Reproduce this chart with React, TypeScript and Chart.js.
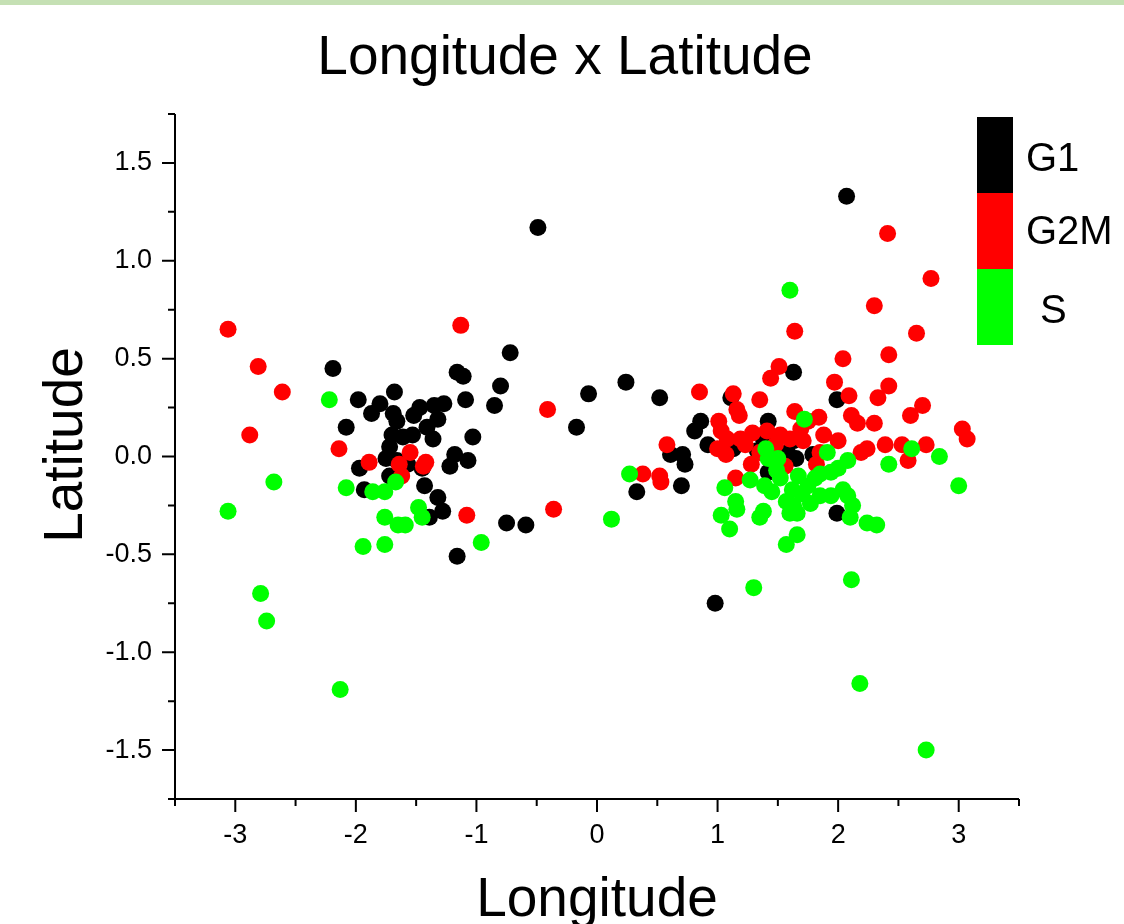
import React, { useEffect, useRef } from "react";
import { Chart, registerables } from "chart.js";

Chart.register(...registerables);

const chartTitle = "Longitude x Latitude";
const xAxisTitle = "Longitude";
const yAxisTitle = "Latitude";

const seriesNames = ["G1", "G2M", "S"];
const seriesColors = ["#000000", "#ff0000", "#00ff00"];

const xMajorValues = [-3, -2, -1, 0, 1, 2, 3];
const xTickLabels = ["-3", "-2", "-1", "0", "1", "2", "3"];
const yMajorValues = [1.5, 1.0, 0.5, 0, -0.5, -1.0, -1.5];
const yTickLabels = ["1.5", "1.0", "0.5", "0.0", "-0.5", "-1.0", "-1.5"];

const g1Points: [number, number][] = [
  [-0.49, 1.17], [2.07, 1.33], [-2.19, 0.45], [-0.72, 0.53], [-1.16, 0.43], [-1.11, 0.41],
  [-0.80, 0.36], [0.24, 0.38], [-0.07, 0.32], [0.52, 0.30], [-0.17, 0.15], [-1.09, 0.29],
  [-0.85, 0.26], [-1.03, 0.10], [-2.08, 0.15], [-1.98, 0.29], [-1.68, 0.33], [-1.80, 0.27],
  [-1.87, 0.22], [-1.69, 0.22], [-1.66, 0.18], [-1.47, 0.25], [-1.52, 0.21], [-1.35, 0.26],
  [-1.27, 0.27], [-1.32, 0.19], [-1.41, 0.15], [-1.36, 0.09], [-1.70, 0.11], [-1.61, 0.10],
  [-1.53, 0.11], [-1.72, 0.05], [-1.75, -0.01], [-1.66, -0.02], [-1.57, -0.04], [-1.18, 0.01],
  [-1.22, -0.05], [-1.07, -0.02], [-1.97, -0.06], [-1.72, -0.10], [-1.45, -0.06], [-1.43, -0.15],
  [-1.93, -0.17], [-1.32, -0.21], [-1.28, -0.28], [-1.39, -0.31], [-1.16, -0.51], [-0.75, -0.34],
  [-0.59, -0.35],
  [0.33, -0.18], [0.70, -0.15], [0.61, 0.01], [0.71, 0.01], [0.73, -0.04], [1.11, 0.30],
  [0.86, 0.18], [0.81, 0.13], [0.92, 0.06], [1.13, 0.04], [1.42, 0.18], [1.38, 0.09],
  [1.63, 0.08], [1.65, -0.01], [1.33, 0.03], [1.42, -0.08], [1.58, 0.02], [1.79, 0.01],
  [1.99, 0.29], [1.63, 0.43], [1.99, -0.29], [0.98, -0.75],
];

const g2mPoints: [number, number][] = [
  [-3.06, 0.65], [-2.81, 0.46], [-2.61, 0.33], [-2.88, 0.11], [-2.14, 0.04], [-1.89, -0.03],
  [-1.55, 0.02], [-1.64, -0.04], [-1.42, -0.03], [-1.44, -0.05], [-1.62, -0.10], [-1.08, -0.30],
  [-1.13, 0.67], [-0.41, 0.24], [-0.36, -0.27],
  [0.38, -0.09], [0.52, -0.10], [0.53, -0.13], [0.58, 0.06], [0.85, 0.33], [1.13, 0.32],
  [1.35, 0.29], [1.16, 0.24], [1.18, 0.21], [1.01, 0.18], [1.03, 0.13], [1.00, 0.04],
  [1.07, 0.01], [1.19, 0.09], [1.29, 0.12], [1.41, 0.13], [1.52, 0.11], [1.60, 0.09],
  [1.28, -0.04], [1.56, -0.05], [1.15, -0.11], [1.51, 0.46], [1.44, 0.40], [1.64, 0.23],
  [1.75, 0.18], [1.84, 0.20], [1.71, 0.08], [1.88, 0.11], [2.00, 0.08], [1.82, -0.04],
  [1.85, 0.02], [2.04, 0.50], [2.42, 0.52], [2.41, 1.14], [2.77, 0.91], [2.30, 0.77],
  [2.65, 0.63], [1.64, 0.64], [1.97, 0.38], [2.42, 0.36], [2.33, 0.30], [2.09, 0.31],
  [2.11, 0.21], [2.16, 0.17], [2.30, 0.17], [2.70, 0.26], [2.60, 0.21], [3.03, 0.14],
  [3.07, 0.09], [2.39, 0.06], [2.53, 0.06], [2.73, 0.06], [2.19, 0.02], [2.24, 0.04],
  [2.58, -0.02], [1.23, 0.06], [1.48, 0.06], [1.35, 0.02], [1.08, 0.09], [1.69, 0.14],
];

const sPoints: [number, number][] = [
  [-2.22, 0.29], [-3.06, -0.28], [-2.68, -0.13], [-2.79, -0.70], [-2.74, -0.84], [-2.13, -1.19],
  [-2.08, -0.16], [-1.86, -0.18], [-1.76, -0.18], [-1.67, -0.13], [-1.48, -0.26], [-1.45, -0.31],
  [-1.76, -0.31], [-1.65, -0.35], [-1.59, -0.35], [-1.94, -0.46], [-1.76, -0.45], [-0.96, -0.44],
  [0.12, -0.32], [0.27, -0.09],
  [1.60, 0.85], [1.72, 0.19], [2.61, 0.04], [2.84, 0.00], [2.42, -0.04], [3.00, -0.15],
  [2.08, -0.02], [2.00, -0.06], [1.91, 0.02], [1.40, 0.04], [1.42, -0.01], [1.50, -0.01],
  [1.49, -0.07], [1.27, -0.12], [1.06, -0.16], [1.15, -0.23], [1.16, -0.27], [1.03, -0.30],
  [1.10, -0.37], [1.39, -0.15], [1.45, -0.18], [1.67, -0.10], [1.75, -0.15], [1.70, -0.19],
  [1.62, -0.17], [1.57, -0.23], [1.63, -0.25], [1.60, -0.29], [1.66, -0.29], [1.38, -0.28],
  [1.35, -0.31], [1.85, -0.09], [1.94, -0.08], [1.85, -0.20], [1.94, -0.20], [2.04, -0.17],
  [2.08, -0.20], [2.12, -0.25], [2.10, -0.31], [2.24, -0.34], [2.32, -0.35], [1.66, -0.40],
  [1.57, -0.45], [1.30, -0.67], [2.11, -0.63], [2.18, -1.16], [2.73, -1.50], [1.77, -0.24],
  [1.81, -0.11], [1.52, -0.11],
];

const FONT = "'Liberation Sans', Arial, Helvetica, sans-serif";

function findLabel(values: number[], labels: string[], v: number): string {
  for (let i = 0; i < values.length; i++) {
    if (Math.abs(values[i] - v) < 1e-6) return labels[i];
  }
  return "";
}

const decorPlugin = {
  id: "decor",
  beforeDraw(chart: any) {
    const ctx = chart.ctx;
    ctx.save();
    ctx.fillStyle = "#c5e0b4";
    ctx.fillRect(0, 0, chart.width, 5);
    ctx.restore();
  },
  afterDraw(chart: any) {
    const ctx = chart.ctx;
    const xs = chart.scales.x;
    const ys = chart.scales.y;
    const { left, right, top, bottom } = chart.chartArea;
    ctx.save();
    ctx.strokeStyle = "#000";
    ctx.lineWidth = 2;
    ctx.beginPath();
    ctx.moveTo(left, top);
    ctx.lineTo(left, bottom);
    ctx.moveTo(left - 2, bottom);
    ctx.lineTo(right, bottom);
    xs.ticks.forEach((t: any) => {
      const px = xs.getPixelForValue(t.value);
      const major = xMajorValues.some((m) => Math.abs(m - t.value) < 1e-6);
      ctx.moveTo(px, bottom);
      ctx.lineTo(px, bottom + (major ? 13 : 7));
    });
    ys.ticks.forEach((t: any) => {
      const py = ys.getPixelForValue(t.value);
      const major = yMajorValues.some((m) => Math.abs(m - t.value) < 1e-6);
      ctx.moveTo(left, py);
      ctx.lineTo(left - (major ? 13 : 7), py);
    });
    ctx.stroke();

    ctx.fillStyle = "#000";
    ctx.textBaseline = "alphabetic";
    ctx.textAlign = "center";
    ctx.font = `55px ${FONT}`;
    ctx.fillText(chartTitle, 565, 74);
    ctx.fillText(xAxisTitle, (left + right) / 2, 916);
    ctx.save();
    ctx.translate(82, 445);
    ctx.rotate(-Math.PI / 2);
    ctx.fillText(yAxisTitle, 0, 0);
    ctx.restore();

    // legend colour blocks
    const bx = 977, by = 117, bw = 36, bh = 76;
    const labelX = [1026, 1026, 1040];
    const labelBase = [171, 244, 323];
    ctx.font = `40px ${FONT}`;
    ctx.textAlign = "left";
    seriesNames.forEach((name, i) => {
      ctx.fillStyle = seriesColors[i];
      ctx.fillRect(bx, by + i * bh, bw, bh);
      ctx.fillStyle = "#000";
      ctx.fillText(name, labelX[i], labelBase[i]);
    });
    ctx.restore();
  },
};

export default function App() {
  const ref = useRef<HTMLCanvasElement>(null);
  useEffect(() => {
    const all = [g1Points, g2mPoints, sPoints];
    const chart = new Chart(ref.current as HTMLCanvasElement, {
      type: "scatter",
      data: {
        datasets: all.map((pts, i) => ({
          label: seriesNames[i],
          data: pts.map(([x, y]) => ({ x, y })),
          backgroundColor: seriesColors[i],
          borderWidth: 0,
          pointRadius: 8.5,
          pointHoverRadius: 8.5,
          order: 3 - i,
        })),
      },
      options: {
        responsive: false,
        animation: false,
        devicePixelRatio: 1,
        events: [],
        layout: { padding: { top: 114, right: 105, bottom: 0, left: 0 } },
        plugins: {
          legend: { display: false },
          tooltip: { enabled: false },
          title: { display: false },
        },
        scales: {
          x: {
            type: "linear",
            min: -3.5,
            max: 3.5,
            grid: { display: false, drawTicks: false },
            border: { display: false },
            ticks: {
              stepSize: 0.5,
              autoSkip: false,
              maxRotation: 0,
              minRotation: 0,
              padding: 20,
              color: "#000",
              font: { family: FONT, size: 27 },
              callback: (v: any) => findLabel(xMajorValues, xTickLabels, Number(v)),
            },
            afterFit: (s: any) => {
              s.height = 125;
            },
          },
          y: {
            type: "linear",
            min: -1.75,
            max: 1.75,
            grid: { display: false, drawTicks: false },
            border: { display: false },
            ticks: {
              stepSize: 0.25,
              autoSkip: false,
              padding: 23,
              color: "#000",
              font: { family: FONT, size: 27 },
              callback: (v: any) => findLabel(yMajorValues, yTickLabels, Number(v)),
            },
            afterFit: (s: any) => {
              s.width = 175;
            },
          },
        },
      },
      plugins: [decorPlugin],
    });
    return () => chart.destroy();
  }, []);
  return (
    <div style={{ position: "fixed", left: 0, top: 0, width: 1124, height: 924, background: "#fff" }}>
      <canvas ref={ref} width={1124} height={924} style={{ display: "block", width: 1124, height: 924 }} />
    </div>
  );
}
